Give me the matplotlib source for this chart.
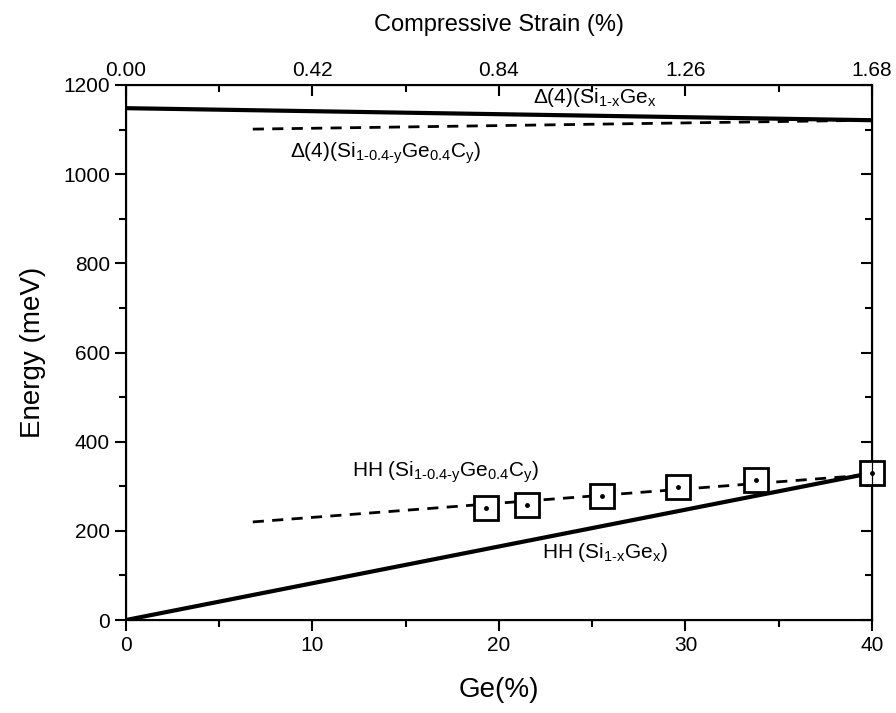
import numpy as np
import matplotlib
matplotlib.use("Agg")
import matplotlib.pyplot as plt
from matplotlib.ticker import MultipleLocator

plt.rcParams['font.family'] = ['Liberation Sans', 'DejaVu Sans']
plt.rcParams['mathtext.fontset'] = 'custom'
plt.rcParams['mathtext.rm'] = 'Liberation Sans'
plt.rcParams['mathtext.it'] = 'Liberation Sans'
plt.rcParams['mathtext.default'] = 'regular'

# data
ge_delta_sige = [0, 40]
e_delta_sige = [1148, 1121]
ge_delta_sigec = [6.8, 40]
e_delta_sigec = [1101, 1121]
ge_hh_sige = [0, 40]
e_hh_sige = [0, 330]
ge_hh_sigec = [6.8, 40]
e_hh_sigec = [220, 326]
ge_points = [19.3, 21.5, 25.5, 29.6, 33.8, 40.0]
e_points = [252, 259, 279, 299, 313, 330]

strain_ticks = [0, 10, 20, 30, 40]
strain_labels = ['0.00', '0.42', '0.84', '1.26', '1.68']

fig = plt.figure(figsize=(8.96, 7.13), dpi=100)
ax = fig.add_axes([0.1406, 0.1304, 0.8326, 0.7504])

ax.plot(ge_delta_sige, e_delta_sige, color='k', lw=3)
ax.plot(ge_delta_sigec, e_delta_sigec, color='k', lw=2, ls=(0, (4, 3)))
ax.plot(ge_hh_sige, e_hh_sige, color='k', lw=3)
ax.plot(ge_hh_sigec, e_hh_sigec, color='k', lw=2, ls=(0, (4, 3)))
ax.plot(ge_points, e_points, ls='none', marker='s', ms=17, mfc='white',
        mec='k', mew=2, clip_on=False, zorder=5)
ax.plot(ge_points, e_points, ls='none', marker='o', ms=2.5, color='k',
        clip_on=False, zorder=6)

ax.set_xlim(0, 40)
ax.set_ylim(0, 1200)
ax.xaxis.set_major_locator(MultipleLocator(10))
ax.xaxis.set_minor_locator(MultipleLocator(5))
ax.yaxis.set_major_locator(MultipleLocator(200))
ax.yaxis.set_minor_locator(MultipleLocator(100))
ax.tick_params(which='both', direction='out', width=1.5, labelsize=15)
ax.tick_params(which='major', length=8)
ax.tick_params(which='minor', length=5)
for s in ax.spines.values():
    s.set_linewidth(1.5)
ax.set_xlabel('Ge(%)', fontsize=20, labelpad=16)
ax.set_ylabel('Energy (meV)', fontsize=20, labelpad=12)

# right side: ticks pointing inward, no labels
right = ax.twinx()
right.set_ylim(ax.get_ylim())
right.yaxis.set_major_locator(MultipleLocator(200))
right.yaxis.set_minor_locator(MultipleLocator(100))
right.tick_params(which='both', direction='in', width=1.5, labelright=False)
right.tick_params(which='major', length=8)
right.tick_params(which='minor', length=5)

top = ax.twiny()
top.set_xlim(ax.get_xlim())
top.set_xticks(strain_ticks)
top.set_xticklabels(strain_labels)
top.xaxis.set_minor_locator(MultipleLocator(5))
top.tick_params(which='both', direction='in', width=1.5, labelsize=15)
top.tick_params(which='major', length=8)
top.tick_params(which='minor', length=5)
top.set_xlabel('Compressive Strain (%)', fontsize=17, labelpad=22)

ax.text(21.8, 1171, r'$\Delta$(4)(Si$_{\text{1-x}}$Ge$_{x}$', fontsize=15, va='center')
ax.text(8.8, 1047, r'$\Delta$(4)(Si$_{\text{1-0.4-y}}$Ge$_{0.4}$C$_{y}$)', fontsize=15, va='center')
ax.text(12.1, 332, r'HH (Si$_{\text{1-0.4-y}}$Ge$_{0.4}$C$_{y}$)', fontsize=15, va='center')
ax.text(22.3, 152, r'HH (Si$_{\text{1-x}}$Ge$_{x}$)', fontsize=15, va='center')

fig.savefig('out.png', dpi=100)
